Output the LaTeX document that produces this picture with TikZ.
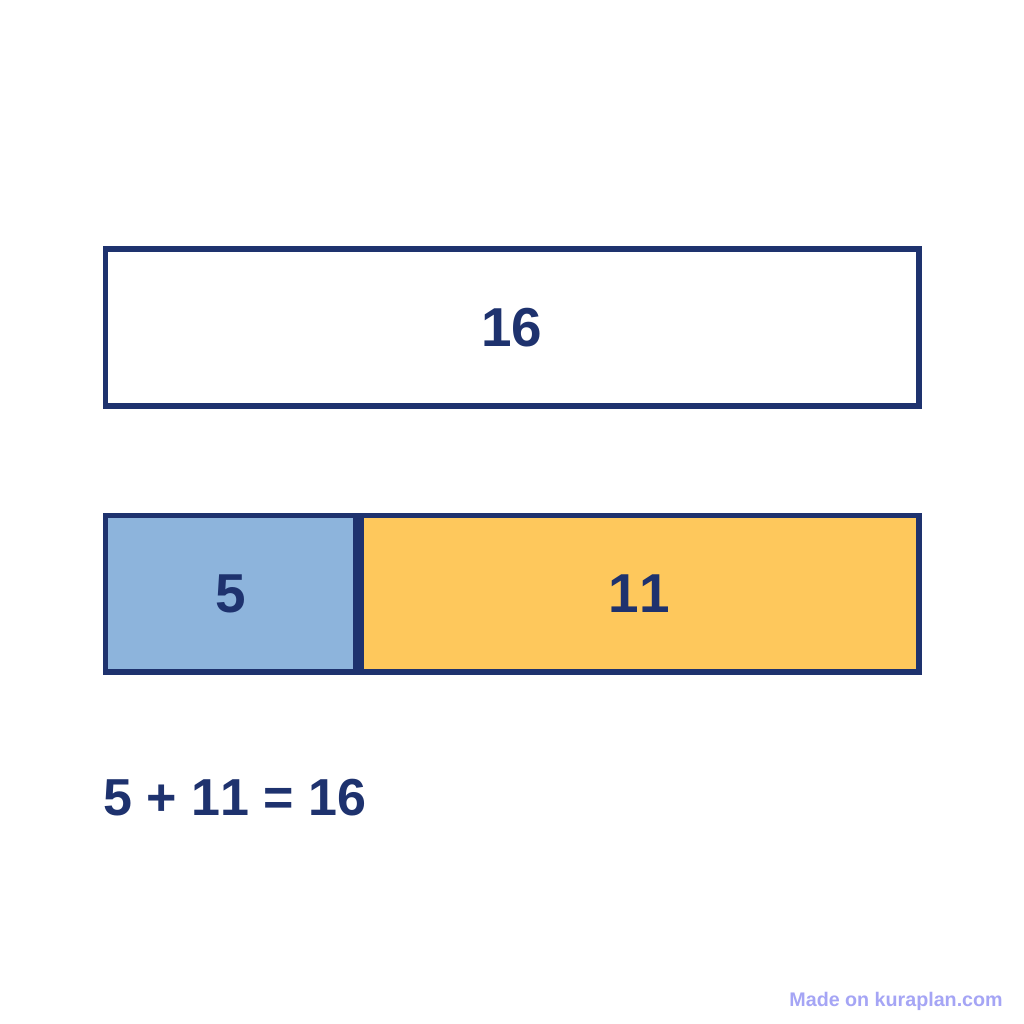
\documentclass[tikz,border=0pt]{standalone}
\usepackage{fontspec}
\setmainfont[Kerning=Off]{Liberation Sans}
\definecolor{navyd}{RGB}{30,50,110}
\definecolor{bluepart}{RGB}{141,180,220}
\definecolor{yellowpart}{RGB}{254,200,92}
\definecolor{markd}{RGB}{165,165,245}
\tikzset{
  barline/.style={draw=navyd, line width=3.9pt},
  barlabel/.style={text=navyd, font=\bfseries\fontsize{39}{39}\selectfont},
}

\begin{document}
\begin{tikzpicture}[x=0.025cm, y=-0.025cm]
            \useasboundingbox[fill=white] (0,0) rectangle (1024,1024);
            % whole
            \draw[barline, fill=white] (105.5,249) rectangle (919,406);
            \node[barlabel] (whole) at (512,327.5) {16};
            % parts
            \draw[barline, fill=bluepart] (105.5,515.5) rectangle (355.5,672);
            \draw[barline, fill=yellowpart] (361,515.5) rectangle (919,672);
            \node[barlabel] (partfive) at (231,594) {5};
            \node[barlabel] (parteleven) at (639,594) {11};
            % sum
            \node[anchor=base west, inner sep=0pt, text=navyd, font=\bfseries\fontsize{37}{37}\selectfont] (sum) at (103,815) {5 + 11 = 16};
            \node[anchor=base east, inner sep=0pt, text=markd, font=\bfseries\fontsize{14}{14}\selectfont] (mark) at (1003,1006) {Made on kuraplan.com};
        \end{tikzpicture}
\end{document}
